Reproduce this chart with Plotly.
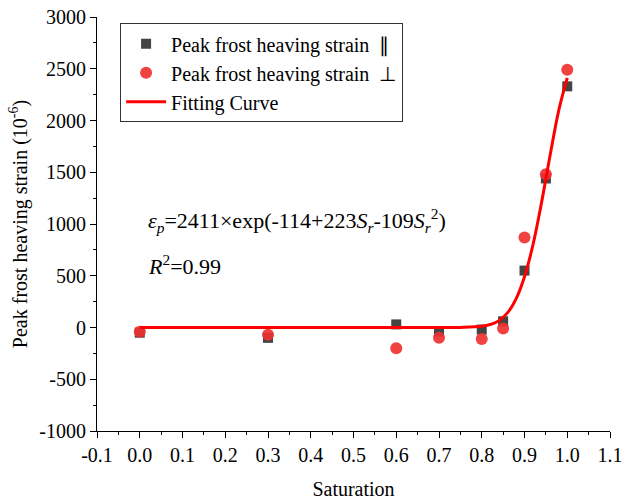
import plotly.graph_objects as go

# Data
saturation = [0.0, 0.3, 0.6, 0.7, 0.8, 0.85, 0.9, 0.95, 1.0]
strain_parallel = [-50, -100, 30, -40, -20, 60, 550, 1440, 2330]
strain_perp = [-40, -70, -200, -100, -110, -10, 870, 1480, 2490]

fit_x = [0.0, 0.1, 0.2, 0.3, 0.4, 0.5, 0.6, 0.7, 0.75, 0.8, 0.82, 0.84, 0.86, 0.88,
         0.9, 0.92, 0.94, 0.96, 0.98, 1.0]
fit_y = [0, 0, 0, 0, 0, 0, 0, 0, 1, 11, 29, 66, 141, 275,
         491, 802, 1210, 1666, 2095, 2411]

x_ticks = [-0.1, 0.0, 0.1, 0.2, 0.3, 0.4, 0.5, 0.6, 0.7, 0.8, 0.9, 1.0, 1.1]
x_tick_labels = ["-0.1", "0.0", "0.1", "0.2", "0.3", "0.4", "0.5", "0.6", "0.7", "0.8", "0.9", "1.0", "1.1"]
y_ticks = [-1000, -500, 0, 500, 1000, 1500, 2000, 2500, 3000]
y_tick_labels = ["-1000", "-500", "0", "500", "1000", "1500", "2000", "2500", "3000"]

FONT = "Liberation Serif, Times New Roman, serif"

fig = go.Figure()
fig.add_trace(go.Scatter(
    x=saturation, y=strain_parallel, mode="markers",
    name="Peak frost heaving strain  \u2225",
    marker=dict(symbol="square", size=10, color="#444444"),
))
fig.add_trace(go.Scatter(
    x=saturation, y=strain_perp, mode="markers",
    name="Peak frost heaving strain  \u22a5",
    marker=dict(symbol="circle", size=12, color="rgba(240,50,50,0.92)"),
))
fig.add_trace(go.Scatter(
    x=fit_x, y=fit_y, mode="lines", line_shape="spline",
    name="Fitting Curve",
    line=dict(color="#ff0000", width=3),
))

fig.add_annotation(
    x=0.015, y=1035, xref="x", yref="y", xanchor="left", yanchor="middle", showarrow=False,
    text="<i>\u03b5<sub>p</sub></i>=2411\u00d7exp(-114+223<i>S<sub>r</sub></i>-109<i>S<sub>r</sub></i><sup>2</sup>)",
    font=dict(family=FONT, size=22, color="black"),
)
fig.add_annotation(
    x=0.015, y=600, xref="x", yref="y", xanchor="left", yanchor="middle", showarrow=False,
    text="<i>R</i><sup>2</sup>=0.99",
    font=dict(family=FONT, size=22, color="black"),
)

fig.update_layout(
    width=624, height=500,
    margin=dict(l=97, r=14, t=17, b=69, autoexpand=False),
    paper_bgcolor="white", plot_bgcolor="white",
    font=dict(family=FONT, size=20, color="black"),
    showlegend=True,
    legend=dict(
        x=0.045, y=0.985, xanchor="left", yanchor="top",
        bordercolor="#333333", borderwidth=1, bgcolor="white",
        font=dict(family=FONT, size=20), tracegroupgap=0, itemwidth=40,
    ),
)
fig.update_xaxes(
    range=[-0.1, 1.1], tickvals=x_ticks, ticktext=x_tick_labels,
    automargin=False,
    showline=True, linecolor="black", linewidth=1,
    ticks="outside", ticklen=6, tickcolor="black",
    minor=dict(ticks="outside", ticklen=3, tickcolor="black", dtick=0.05, tick0=0.05),
    showgrid=False, zeroline=False,
    title=dict(text="Saturation", font=dict(family=FONT, size=20), standoff=16),
    tickfont=dict(family=FONT, size=20),
)
fig.update_yaxes(
    range=[-1000, 3000], tickvals=y_ticks, ticktext=y_tick_labels,
    automargin=False,
    showline=True, linecolor="black", linewidth=1,
    ticks="outside", ticklen=6, tickcolor="black",
    minor=dict(ticks="outside", ticklen=3, tickcolor="black", dtick=250, tick0=250),
    showgrid=False, zeroline=False,
    title=dict(text="Peak frost heaving strain (10<sup>-6</sup>)", font=dict(family=FONT, size=20), standoff=6),
    tickfont=dict(family=FONT, size=20),
)

fig.write_html("out.html")
